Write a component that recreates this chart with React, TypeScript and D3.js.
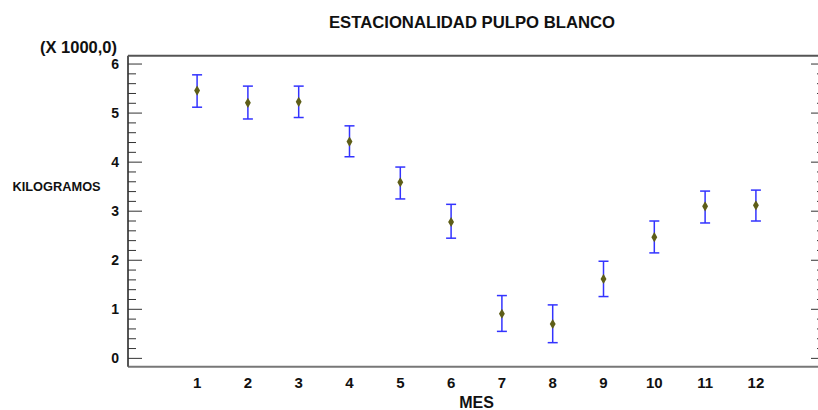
import React from "react";
import * as d3 from "d3";

const months = [1, 2, 3, 4, 5, 6, 7, 8, 9, 10, 11, 12];
const means = [5.46, 5.21, 5.23, 4.42, 3.59, 2.78, 0.91, 0.7, 1.62, 2.47, 3.1, 3.12];
const lower = [5.12, 4.88, 4.91, 4.11, 3.25, 2.45, 0.55, 0.32, 1.26, 2.15, 2.76, 2.8];
const upper = [5.78, 5.55, 5.55, 4.74, 3.9, 3.14, 1.28, 1.09, 1.98, 2.8, 3.41, 3.43];
const yMajorTicks = [0, 1, 2, 3, 4, 5, 6];

const W = 818;
const H = 410;
const FONT = "Arial, 'Liberation Sans', sans-serif";

export default function App() {
  const x = d3.scaleLinear().domain([-0.36, 13.36]).range([128, 825]);
  const y = d3.scaleLinear().domain([-0.17, 6.17]).range([366.7, 55.7]);
  const minor = d3.range(0, 6.01, 0.2).filter((v) => Math.abs(v - Math.round(v)) > 0.01);
  const diamond = d3.symbol().type(d3.symbolDiamond).size(30)();
  const [x0, x1] = x.range();
  const [yb, yt] = y.range();

  return (
    <div style={{ position: "fixed", left: 0, top: 0 }}>
      <svg width={W} height={H} style={{ display: "block", background: "#fff" }} fontFamily={FONT}>
        <text x={472} y={28.3} textAnchor="middle" fontWeight="bold" fontSize={16.7} fill="#111">
          ESTACIONALIDAD PULPO BLANCO
        </text>
        <text x={40} y={52.5} fontWeight="bold" fontSize={16.5} fill="#111">
          (X 1000,0)
        </text>
        <text x={12.5} y={190.8} fontWeight="bold" fontSize={12.8} fill="#111">
          KILOGRAMOS
        </text>
        <text x={476.5} y={407.5} textAnchor="middle" fontWeight="bold" fontSize={16} fill="#111">
          MES
        </text>

        {/* frame */}
        <line x1={x0} x2={x1} y1={yt} y2={yt} stroke="#555" strokeWidth={2} />
        <line x1={x0} x2={x1} y1={yb} y2={yb} stroke="#777" strokeWidth={2} />
        <line x1={x0} x2={x0} y1={yt} y2={yb} stroke="#555" strokeWidth={2} />
        <line x1={x1} x2={x1} y1={yt} y2={yb} stroke="#555" strokeWidth={2} />

        {/* y ticks */}
        {yMajorTicks.map((t) => (
          <g key={"M" + t}>
            <line x1={x0} x2={x0 + 14} y1={y(t)} y2={y(t)} stroke="#333" strokeWidth={1} />
            <line x1={x1} x2={x1 - 14} y1={y(t)} y2={y(t)} stroke="#333" strokeWidth={1} />
            <text x={119} y={y(t)} dy="0.36em" textAnchor="end" fontWeight="bold" fontSize={14} fill="#111">
              {t}
            </text>
          </g>
        ))}
        {minor.map((t) => (
          <g key={"m" + t}>
            <line x1={x0} x2={x0 + 8} y1={y(t)} y2={y(t)} stroke="#333" strokeWidth={1} />
            <line x1={x1} x2={x1 - 8} y1={y(t)} y2={y(t)} stroke="#333" strokeWidth={1} />
          </g>
        ))}

        {/* x labels */}
        {months.map((m) => (
          <text key={"xl" + m} x={x(m)} y={388} textAnchor="middle" fontWeight="bold" fontSize={15} fill="#111">
            {m}
          </text>
        ))}

        {/* error bars */}
        {months.map((m, i) => (
          <g key={"e" + m} stroke="#3333ff" strokeWidth={1.5}>
            <line x1={x(m)} x2={x(m)} y1={y(lower[i])} y2={y(upper[i])} />
            <line x1={x(m) - 5} x2={x(m) + 5} y1={y(lower[i])} y2={y(lower[i])} />
            <line x1={x(m) - 5} x2={x(m) + 5} y1={y(upper[i])} y2={y(upper[i])} />
          </g>
        ))}
        {months.map((m, i) => (
          <path key={"p" + m} d={diamond as string} transform={`translate(${x(m)},${y(means[i])})`} fill="#5e5e18" />
        ))}
      </svg>
    </div>
  );
}
